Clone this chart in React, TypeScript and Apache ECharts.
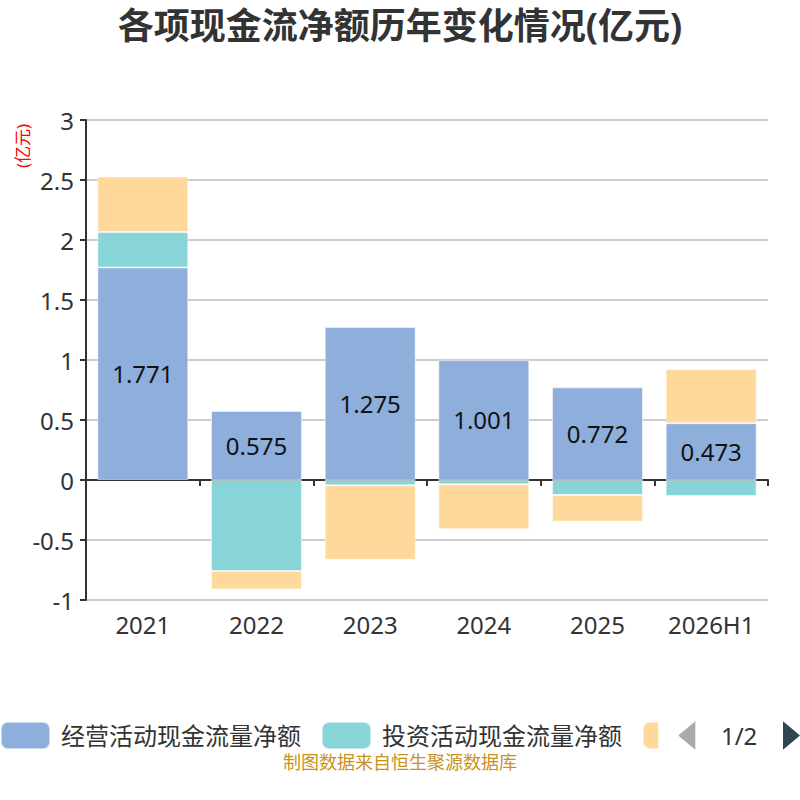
import React, { useEffect, useRef } from "react";
import * as echarts from "echarts";

const categories = ["2021", "2022", "2023", "2024", "2025", "2026H1"];
const operating = [1.771, 0.575, 1.275, 1.001, 0.772, 0.473];
const investing = [0.296, -0.758, -0.044, -0.036, -0.125, -0.133];
const financing = [0.462, -0.154, -0.62, -0.375, -0.222, 0.452];
const seriesNames = ["经营活动现金流量净额", "投资活动现金流量净额", "筹资活动现金流量净额"];
const colors = ["#8eaedb", "#87d5d9", "#fed99b"];

export default function App() {
  const ref = useRef<HTMLDivElement>(null);
  useEffect(() => {
    if (!ref.current) return;
    const chart = echarts.init(ref.current, null, { renderer: "svg" });
    const font = "'Noto Sans', 'Noto Sans CJK SC', sans-serif";
    const mk = (i: number, data: number[], label: boolean) => ({
      name: seriesNames[i],
      type: "bar",
      stack: "total",
      data,
      barWidth: "80%",
      xAxisIndex: 0,
      itemStyle: { color: colors[i], borderColor: "rgba(255,255,255,0.5)", borderWidth: 1 },
      label: label
        ? { show: true, position: "inside", color: "#111", fontSize: 24, fontFamily: font }
        : { show: false },
    });
    chart.setOption({
      animation: false,
      textStyle: { fontFamily: font },
      color: colors,
      title: {
        text: "各项现金流净额历年变化情况(亿元)",
        left: "center",
        top: 2,
        textStyle: { fontSize: 36, fontWeight: "bold", color: "#333", fontFamily: font },
      },
      grid: { left: 86, right: 32, top: 120, bottom: 200, containLabel: false },
      legend: {
        type: "scroll",
        left: 0,
        right: 0,
        top: 721,
        padding: 0,
        itemWidth: 49,
        itemHeight: 27,
        itemGap: 20,
        icon: "roundRect",
        data: seriesNames,
        textStyle: { fontSize: 24, color: "#333", fontFamily: font, padding: [0, 0, 0, 6] },
        pageIconSize: [17, 29],
        pageButtonItemGap: 14,
        pageButtonGap: 20,
        pageIconColor: "#2f4554",
        pageIconInactiveColor: "#aaa",
        pageTextStyle: { fontSize: 24, color: "#333", fontFamily: font },
      },
      xAxis: [
        {
          type: "category",
          data: categories,
          axisLine: { show: true, onZero: true, lineStyle: { color: "#333", width: 2 } },
          axisTick: { show: true, length: 6, lineStyle: { color: "#333", width: 2 } },
          axisLabel: { show: false },
        },
        {
          type: "category",
          data: categories,
          position: "bottom",
          axisLine: { show: false, onZero: false },
          axisTick: { show: false },
          axisLabel: { show: true, fontSize: 24, color: "#333", margin: 12, fontFamily: font },
        },
      ],
      yAxis: {
        type: "value",
        min: -1,
        max: 3,
        interval: 0.5,
        axisLine: { show: true, lineStyle: { color: "#333", width: 2 } },
        axisTick: { show: true, length: 6, lineStyle: { color: "#333", width: 2 } },
        axisLabel: { fontSize: 24, color: "#333", margin: 12, fontFamily: font },
        splitLine: { show: true, lineStyle: { color: "#ccc", width: 2 } },
      },
      graphic: [
        {
          type: "text",
          x: 14,
          y: 168,
          rotation: Math.PI / 2,
          style: { text: "(亿元)", fill: "#ff0000", fontSize: 17, fontFamily: font },
        },
        {
          type: "text",
          left: "center",
          top: 753,
          style: { text: "制图数据来自恒生聚源数据库", fill: "#c8921e", fontSize: 18, fontFamily: font },
        },
      ],
      series: [mk(0, operating, true), mk(1, investing, false), mk(2, financing, false)],
    });
    return () => chart.dispose();
  }, []);
  return <div ref={ref} style={{ width: 800, height: 800, position: "absolute", left: 0, top: 0 }} />;
}
